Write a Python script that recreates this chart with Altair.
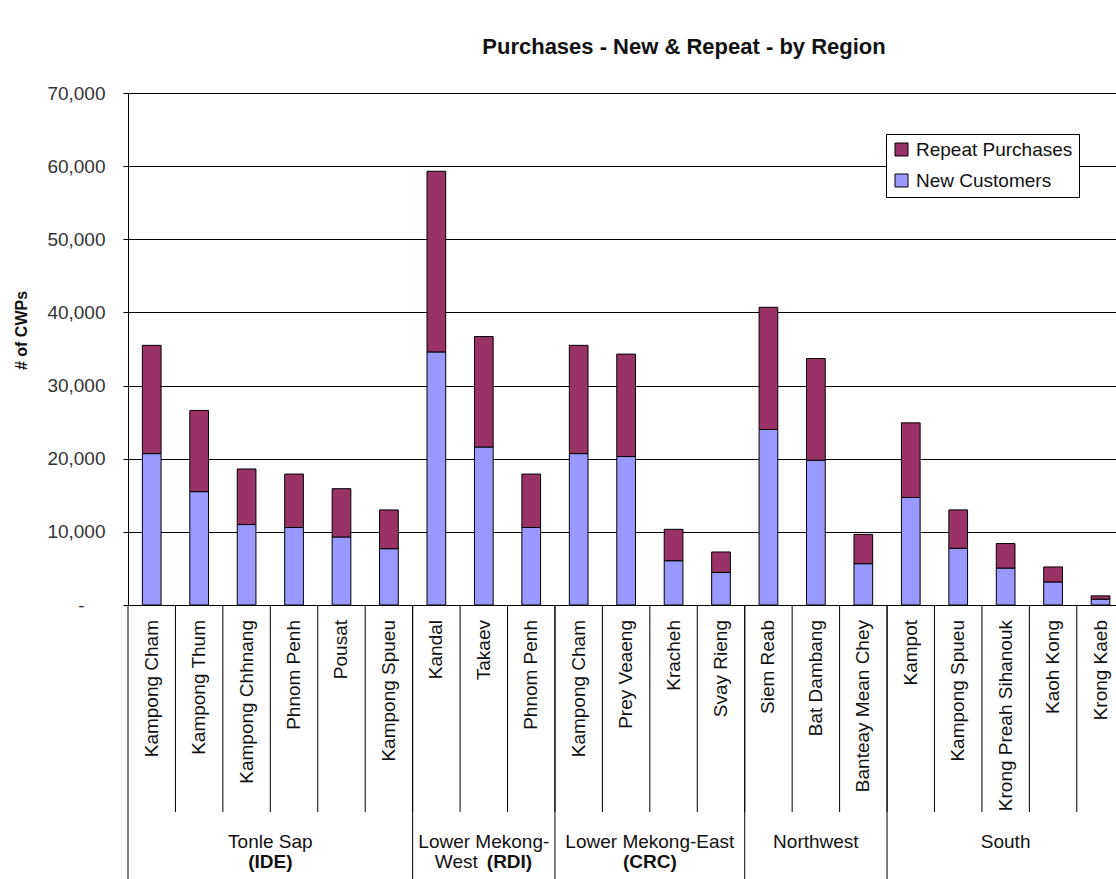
import altair as alt
import pandas as pd

# ---------------- data ----------------
names = ["Kampong Cham", "Kampong Thum", "Kampong Chhnang", "Phnom Penh", "Pousat",
         "Kampong Spueu", "Kandal", "Takaev", "Phnom Penh", "Kampong Cham",
         "Prey Veaeng", "Kracheh", "Svay Rieng", "Siem Reab", "Bat Dambang",
         "Banteay Mean Chey", "Kampot", "Kampong Spueu", "Krong Preah Sihanouk",
         "Kaoh Kong", "Krong Kaeb"]
new_customers = [20700, 15500, 11000, 10600, 9300, 7700, 34600, 21600, 10600, 20700,
                 20300, 6050, 4450, 24000, 19800, 5650, 14700, 7750, 5050, 3150, 800]
totals = [35500, 26600, 18600, 17900, 15900, 13000, 59300, 36700, 17900, 35500,
          34300, 10350, 7250, 40700, 33700, 9650, 24900, 13000, 8400, 5200, 1250]

series_names = ["Repeat Purchases", "New Customers"]
series_colors = ["#993366", "#9999FF"]

group_line1 = ["Tonle Sap", "Lower Mekong-", "Lower Mekong-East", "Northwest", "South"]
group_start = [0, 6, 9, 13, 16]
group_end = [6, 9, 13, 16, 21]
group_bold = ["(IDE)", "", "(CRC)", "", ""]
lmw_west = "West"
lmw_bold = "(RDI)"

y_ticks = [0, 10000, 20000, 30000, 40000, 50000, 60000, 70000]

# ---------------- layout ----------------
W, H = 988, 512
BAND = 47.44
FONT = "Liberation Sans"

rows = []
for i, (nm, nw, tot) in enumerate(zip(names, new_customers, totals)):
    rows.append({"xc": i + 0.5, "name": nm, "series": "New Customers", "value": nw, "ord": 0})
    rows.append({"xc": i + 0.5, "name": nm, "series": "Repeat Purchases", "value": tot - nw, "ord": 1})
df = pd.DataFrame(rows)

names_df = pd.DataFrame({"xc": [i + 0.5 for i in range(len(names))], "name": names})
cat_bounds = pd.DataFrame({"xc": list(range(1, len(names)))})
grp_bounds = pd.DataFrame({"xc": group_start})
grp_df = pd.DataFrame({
    "xc": [(s + e) / 2 for s, e in zip(group_start, group_end)],
    "line1": group_line1,
    "bold": group_bold,
})
lmw_df = pd.DataFrame({"xc": [(group_start[1] + group_end[1]) / 2], "w": [lmw_west], "b": [lmw_bold]})

xscale = alt.Scale(domain=[0, W / BAND], nice=False, zero=False, padding=0)

x_axis = alt.Axis(ticks=False, labels=False, grid=False, domainColor="black", title=None)
y_axis = alt.Axis(
    values=y_ticks,
    labelExpr="datum.value == 0 ? '-' : format(datum.value, ',')",
    tickSize=5,
    labelPadding={"condition": {"test": "datum.value == 0", "value": 39}, "value": 18},
    grid=True, gridColor="black", gridOpacity=1,
    domainColor="black", tickColor="black", labelFontSize=19, labelColor="#333",
    title="# of CWPs", titleFontSize=16, titleFontWeight="bold", titleAngle=270,
    titleX=-107, titleY=237, titleAlign="center", titleBaseline="middle", titleColor="#111",
)

bars = alt.Chart(df).mark_bar(size=18.7, stroke="black", strokeWidth=1).encode(
    x=alt.X("xc:Q", scale=xscale, axis=x_axis),
    y=alt.Y("value:Q", stack="zero", scale=alt.Scale(domain=[0, 70000], nice=False), axis=y_axis),
    color=alt.Color(
        "series:N",
        scale=alt.Scale(domain=series_names, range=series_colors),
        legend=alt.Legend(
            orient="none", legendX=758, legendY=41, title=None, strokeColor="black",
            fillColor="white", padding=6, symbolType="square", symbolSize=169,
            symbolStrokeColor="black", symbolStrokeWidth=1, labelFontSize=19,
            rowPadding=11, labelOffset=5, labelColor="#111", labelFont=FONT,
        ),
    ),
    order=alt.Order("ord:Q"),
)

cat_labels = alt.Chart(names_df).mark_text(
    angle=270, align="right", baseline="middle", fontSize=19, color="#111"
).encode(
    x=alt.X("xc:Q", scale=xscale, axis=None), y=alt.value(H + 15), text="name:N",
)

cat_rules = alt.Chart(cat_bounds).mark_rule(color="black", strokeWidth=1).encode(
    x=alt.X("xc:Q", scale=xscale, axis=None),
    y=alt.value(H), y2=alt.value(H + 207),
)
grp_rules = alt.Chart(grp_bounds).mark_rule(color="black", strokeWidth=1).encode(
    x=alt.X("xc:Q", scale=xscale, axis=None),
    y=alt.value(H), y2=alt.value(H + 274),
)

grp_text1 = alt.Chart(grp_df).mark_text(fontSize=19, align="center", baseline="middle", color="#111").encode(
    x=alt.X("xc:Q", scale=xscale, axis=None), y=alt.value(H + 237), text="line1:N",
)
grp_text2 = alt.Chart(grp_df).mark_text(fontSize=19, fontWeight="bold", align="center", baseline="middle", color="#111").encode(
    x=alt.X("xc:Q", scale=xscale, axis=None), y=alt.value(H + 257), text="bold:N",
)
lmw_w = alt.Chart(lmw_df).mark_text(fontSize=19, align="right", baseline="middle", dx=-6, color="#111").encode(
    x=alt.X("xc:Q", scale=xscale, axis=None), y=alt.value(H + 257), text="w:N",
)
lmw_b = alt.Chart(lmw_df).mark_text(fontSize=19, fontWeight="bold", align="left", baseline="middle", dx=3, color="#111").encode(
    x=alt.X("xc:Q", scale=xscale, axis=None), y=alt.value(H + 257), text="b:N",
)

chart = alt.layer(bars, cat_labels, cat_rules, grp_rules, grp_text1, grp_text2, lmw_w, lmw_b).properties(
    width=W, height=H,
    title=alt.TitleParams(
        "Purchases - New & Repeat - by Region", fontSize=22, fontWeight="bold",
        anchor="middle", dx=62, offset=8, baseline="alphabetic", color="#111",
    ),
    autosize=alt.AutoSizeParams(type="none"),
    padding={"left": 128, "top": 93, "right": 0, "bottom": 274},
).configure(font=FONT).configure_view(stroke=None)

chart.save("out.html", embed_options={"renderer": "svg", "actions": False})
